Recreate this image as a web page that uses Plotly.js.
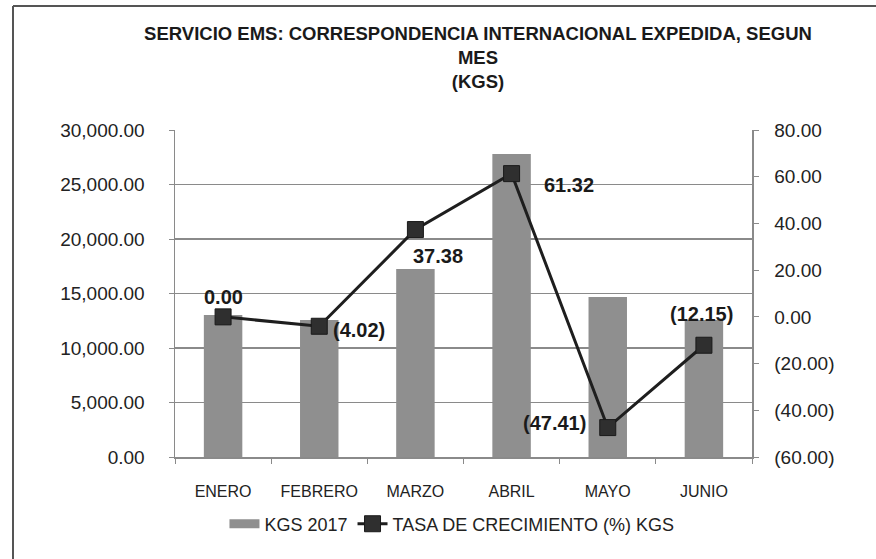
<!DOCTYPE html>
<html>
<head>
<meta charset="utf-8">
<script src="https://cdn.plot.ly/plotly-3.0.1.min.js"></script>
<style>html,body{margin:0;padding:0;background:#fff;}#chart{width:876px;height:559px;}</style>
</head>
<body>
<div id="chart"></div>
<script>
const months = ["ENERO", "FEBRERO", "MARZO", "ABRIL", "MAYO", "JUNIO"];
const kgs2017 = [13030, 12570, 17250, 27800, 14680, 12570];
const growthRate = [0.00, -4.02, 37.38, 61.32, -47.41, -12.15];
const leftTicks = [0, 5000, 10000, 15000, 20000, 25000, 30000];
const rightTicks = [-60, -40, -20, 0, 20, 40, 60, 80];

// label placement (layout only): [xanchor, xshift, yshift]
const labelPlacement = [
  ["center", 0, 20],
  ["left", 12, -4],
  ["left", -4, -26],
  ["left", 30, -11],
  ["right", -20, 5],
  ["center", -2, 31]
];

function fmtAcct(v) {
  const s = Math.abs(v).toFixed(2);
  return v < 0 ? "(" + s + ")" : s;
}

const FONT = "Liberation Sans, Arial, sans-serif";

const bars = {
  type: "bar",
  name: "KGS 2017",
  x: months,
  y: kgs2017,
  marker: {color: "#8f8f8f", line: {width: 0}},
  yaxis: "y",
  showlegend: false
};

const barLegend = {
  type: "scatter",
  mode: "lines",
  name: "KGS 2017",
  x: [null],
  y: [null],
  line: {color: "#8f8f8f", width: 9},
  hoverinfo: "skip"
};

const line = {
  type: "scatter",
  mode: "lines+markers",
  name: "TASA DE CRECIMIENTO (%) KGS",
  x: months,
  y: growthRate,
  yaxis: "y2",
  line: {color: "#1e1e1e", width: 3},
  marker: {symbol: "square", size: 16, color: "#2f2f2f", line: {color: "#1a1a1a", width: 1}},
  cliponaxis: false
};

const annotations = growthRate.map((v, i) => ({
  x: months[i],
  y: v,
  xref: "x",
  yref: "y2",
  text: "<b>" + fmtAcct(v) + "</b>",
  showarrow: false,
  xanchor: labelPlacement[i][0],
  yanchor: "middle",
  xshift: labelPlacement[i][1],
  yshift: labelPlacement[i][2],
  font: {family: FONT, size: 20, color: "#1a1a1a"}
}));

const layout = {
  width: 876,
  height: 559,
  paper_bgcolor: "#ffffff",
  plot_bgcolor: "#ffffff",
  margin: {l: 175, r: 124, t: 130, b: 102},
  font: {family: FONT, color: "#222"},
  title: {
    text: "<b>SERVICIO EMS: CORRESPONDENCIA INTERNACIONAL EXPEDIDA, SEGUN<br>MES<br>(KGS)</b>",
    font: {family: FONT, size: 18.5, color: "#1a1a1a"},
    x: 478 / 876,
    xanchor: "center",
    xref: "container",
    y: 1 - 40 / 559,
    yanchor: "middle",
    yref: "container"
  },
  bargap: 0.6,
  showlegend: true,
  legend: {
    orientation: "h",
    x: 0.48,
    xanchor: "center",
    y: -0.205,
    yanchor: "middle",
    font: {family: FONT, size: 18, color: "#222"},
    bgcolor: "rgba(0,0,0,0)"
  },
  xaxis: {
    type: "category",
    showgrid: false,
    showline: true,
    linecolor: "#8a8a8a",
    linewidth: 1.5,
    ticks: "outside",
    tickson: "boundaries",
    ticklen: 5,
    tickcolor: "#8a8a8a",
    ticklabelstandoff: 19,
    tickfont: {family: FONT, size: 16, color: "#222"}
  },
  yaxis: {
    range: [0, 30000],
    tickvals: leftTicks,
    tickformat: ",.2f",
    showgrid: true,
    gridcolor: "#8a8a8a",
    gridwidth: 1.2,
    showline: true,
    linecolor: "#8a8a8a",
    linewidth: 1.5,
    ticks: "outside",
    ticklen: 5,
    tickcolor: "#8a8a8a",
    ticklabelstandoff: 20,
    zeroline: false,
    tickfont: {family: FONT, size: 19, color: "#222"}
  },
  yaxis2: {
    overlaying: "y",
    side: "right",
    range: [-60, 80],
    tickvals: rightTicks,
    ticktext: rightTicks.map(fmtAcct),
    showgrid: false,
    showline: true,
    linecolor: "#8a8a8a",
    linewidth: 1.5,
    ticks: "outside",
    ticklen: 5,
    tickcolor: "#8a8a8a",
    ticklabelstandoff: 12,
    zeroline: false,
    tickfont: {family: FONT, size: 19, color: "#222"}
  },
  annotations: annotations,
  shapes: [
    {type: "line", xref: "paper", yref: "paper", x0: (13 - 175) / 577, x1: (880 - 175) / 577, y0: (457 - 6) / 327, y1: (457 - 6) / 327, line: {color: "#555", width: 2}},
    {type: "line", xref: "paper", yref: "paper", x0: (13 - 175) / 577, x1: (13 - 175) / 577, y0: (457 - 6) / 327, y1: (457 - 565) / 327, line: {color: "#555", width: 2}}
  ]
};

Plotly.newPlot("chart", [bars, barLegend, line], layout, {displayModeBar: false, staticPlot: true});
</script>
</body>
</html>
